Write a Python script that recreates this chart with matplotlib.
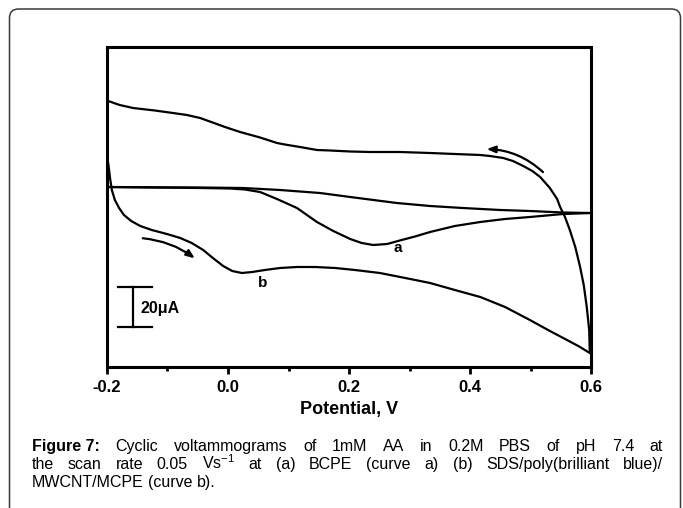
import matplotlib
matplotlib.use("Agg")
import matplotlib.pyplot as plt
from matplotlib.patches import FancyBboxPatch, FancyArrowPatch
from matplotlib.transforms import IdentityTransform
from matplotlib.ticker import MultipleLocator

plt.rcParams['font.family'] = ['Liberation Sans', 'DejaVu Sans']
plt.rcParams['mathtext.fontset'] = 'custom'
plt.rcParams['mathtext.rm'] = 'Liberation Sans'
plt.rcParams['mathtext.it'] = 'Liberation Sans:italic'
plt.rcParams['mathtext.bf'] = 'Liberation Sans:bold'
plt.rcParams['axes.unicode_minus'] = False

# ---- data (potential in V, current in uA) ----
# curve a (BCPE), upper branch
a_up_v = [-0.2, -0.046, 0.025, 0.086, 0.152, 0.202, 0.279, 0.334, 0.388, 0.45, 0.499, 0.554, 0.6]
a_up_i = [-1.0, -1.25, -1.5, -2.5, -4.0, -6.0, -9.0, -10.5, -11.5, -12.5, -13.0, -13.75, -14.0]
# curve a, lower branch with the AA peak
a_lo_v = [-0.2, -0.129, -0.046, 0.003, 0.028, 0.053, 0.081, 0.114, 0.147, 0.174, 0.202, 0.221,
          0.24, 0.263, 0.284, 0.309, 0.334, 0.375, 0.417, 0.458, 0.499, 0.554, 0.6]
a_lo_i = [-1.0, -1.25, -1.5, -1.75, -2.25, -3.5, -7.0, -11.5, -18.5, -23.0, -27.0, -29.0,
          -30.0, -29.5, -27.75, -25.75, -23.5, -20.5, -18.5, -17.0, -16.0, -14.5, -14.0]
# curve b (SDS/poly(brilliant blue)/MWCNT/MCPE), forward scan
b_fw_v = [-0.2, -0.198, -0.195, -0.192, -0.187, -0.18, -0.172, -0.16, -0.145, -0.126, -0.101,
          -0.079, -0.06, -0.041, -0.025, -0.008, 0.007, 0.023, 0.04, 0.061, 0.086, 0.114,
          0.144, 0.177, 0.21, 0.251, 0.293, 0.334, 0.375, 0.417, 0.458, 0.499, 0.529,
          0.554, 0.579, 0.598]
b_fw_i = [12.0, 11.0, 3.5, -2.5, -7.5, -11.5, -15.0, -18.0, -20.5, -22.5, -24.5,
          -26.5, -29.0, -32.5, -36.5, -40.5, -43.0, -44.0, -43.5, -42.5, -41.5, -41.0,
          -41.0, -41.5, -42.5, -44.0, -46.5, -49.0, -52.5, -56.0, -61.0, -67.5, -72.5,
          -76.5, -80.5, -84.0]
# curve b, reverse scan
b_rv_v = [0.598, 0.597, 0.593, 0.588, 0.582, 0.574, 0.565, 0.557, 0.549, 0.544, 0.532, 0.516,
          0.503, 0.488, 0.471, 0.455, 0.433, 0.417, 0.375, 0.334, 0.284, 0.235, 0.202, 0.169,
          0.147, 0.119, 0.094, 0.081, 0.053, 0.02, -0.005, -0.03, -0.046, -0.068, -0.091,
          -0.121, -0.157, -0.179, -0.198, -0.2]
b_rv_i = [-83.5, -72.5, -61.0, -50.0, -41.0, -31.0, -22.5, -16.0, -11.0, -7.0, -1.5, 4.0,
          7.0, 9.5, 12.0, 13.5, 14.5, 15.0, 15.5, 16.0, 16.5, 16.5, 16.75, 17.25,
          17.5, 19.0, 20.25, 21.0, 23.75, 26.5, 29.0, 31.75, 33.5, 35.0, 36.0,
          37.25, 38.5, 40.0, 42.0, 42.5]

xticks = [-0.2, 0.0, 0.2, 0.4, 0.6]
xtick_labels = ['-0.2', '0.0', '0.2', '0.4', '0.6']

caption_lines = [
    ['Figure 7:', 'Cyclic', 'voltammograms', 'of', '1mM', 'AA', 'in', '0.2M', 'PBS', 'of', 'pH', '7.4', 'at'],
    ['the', 'scan', 'rate', '0.05', 'Vs$^{-1}$', 'at', '(a)', 'BCPE', '(curve', 'a)', '(b)',
     'SDS/poly(brilliant', 'blue)/'],
    ['MWCNT/MCPE', '(curve', 'b).'],
]

W, H = 683, 508
fig = plt.figure(figsize=(W / 100, H / 100), dpi=100)

# rounded frame around figure + caption
frame = FancyBboxPatch((9.5, -40), 671, 499 + 40, boxstyle="round,pad=0,rounding_size=9",
                       transform=IdentityTransform(), fill=False, edgecolor='#3a3a3a', linewidth=1.1)
fig.add_artist(frame)

ax = fig.add_axes([107 / W, 1 - 367 / H, (591 - 107) / W, (367 - 47) / H])

lw = 1.6
ax.plot(a_up_v, a_up_i, color='k', lw=lw, solid_joinstyle='round')
ax.plot(a_lo_v, a_lo_i, color='k', lw=lw, solid_joinstyle='round')
ax.plot(b_fw_v, b_fw_i, color='k', lw=lw, solid_joinstyle='round')
ax.plot(b_rv_v, b_rv_i, color='k', lw=lw, solid_joinstyle='round')

ax.set_xlim(-0.2, 0.6)
ax.set_ylim(-91, 69)

for s in ax.spines.values():
    s.set_linewidth(2.2)

ax.set_xticks(xticks, xtick_labels, fontweight='bold', fontsize=12)
ax.xaxis.set_minor_locator(MultipleLocator(0.1))
ax.tick_params(axis='x', which='major', direction='out', length=5, width=2, pad=4)
ax.tick_params(axis='x', which='minor', direction='out', length=3, width=2)
ax.tick_params(axis='y', which='both', left=False, labelleft=False)
ax.set_xlabel('Potential, V', fontweight='bold', fontsize=13, labelpad=5)

# curve labels
ax.text(0.281, -31.5, 'a', fontweight='bold', fontsize=11, ha='center', va='center')
ax.text(0.058, -49, 'b', fontweight='bold', fontsize=11, ha='center', va='center')

# scan direction arrows
ax.add_patch(FancyArrowPatch((-0.1455, -26.5), (-0.0512, -37.5), connectionstyle='arc3,rad=-0.15',
                             arrowstyle='-|>,head_length=5,head_width=2', color='k', lw=1.6))
ax.add_patch(FancyArrowPatch((0.524, 5.5), (0.423, 18.0), connectionstyle='arc3,rad=0.2',
                             arrowstyle='-|>,head_length=5,head_width=2', color='k', lw=1.6))

# 20 uA scale bar
ax.plot([-0.157, -0.157], [-51, -71], color='k', lw=1.6)
ax.plot([-0.182, -0.126], [-51, -51], color='k', lw=1.6)
ax.plot([-0.182, -0.126], [-71, -71], color='k', lw=1.6)
ax.text(-0.145, -62, '20\u03bcA', fontweight='bold', fontsize=11.5, ha='left', va='center')

# justified caption, words placed on a common baseline
renderer = fig.canvas.get_renderer()
x0, x1 = 32, 663
baselines = [451, 469, 487]
for n, words in enumerate(caption_lines):
    arts = []
    for w in words:
        weight = 'bold' if w.startswith('Figure') else 'normal'
        arts.append(fig.text(0, 1 - baselines[n] / H, w, fontsize=11.5, fontweight=weight,
                             ha='left', va='baseline'))
    widths = [t.get_window_extent(renderer).width for t in arts]
    if n < len(caption_lines) - 1:
        gap = (x1 - x0 - sum(widths)) / (len(words) - 1)
    else:
        gap = 4.5
    x = x0
    for t, wd in zip(arts, widths):
        t.set_x(x / W)
        x += wd + gap

fig.savefig('out.png', dpi=100)
